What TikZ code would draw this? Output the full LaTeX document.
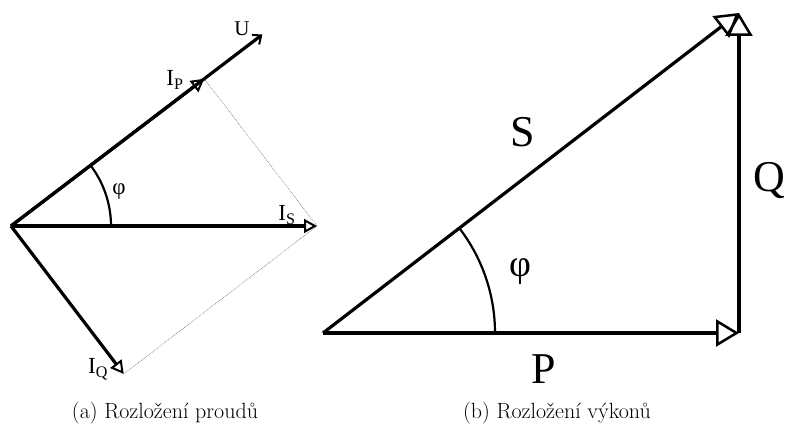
\documentclass[tikz,border=0pt]{standalone}
\usepackage{fontspec}
\newfontfamily\timesfont{Liberation Serif}
\usetikzlibrary{arrows.meta}
\tikzset{
  vec_line/.style = {line width=3.2pt},
  small_head/.style = {vec_line,
    -{Triangle[open, length=13pt, width=14pt, line width=2pt]}},% fazor proudu
  big_head/.style = {vec_line,
    -{Triangle[open, length=23pt, width=27pt, line width=2.5pt]}},% fazor vykonu
  barb_head/.style = {vec_line,
    -{Straight Barb[length=7pt, width=12pt, line width=2pt]}},% napeti
  proj_line/.style = {gray, line width=0.7pt, densely dotted},
  angle_arc/.style = {line width=2.2pt},
  small_lbl/.style = {font=\timesfont\fontsize{23}{23}\selectfont, inner sep=0pt},
  big_lbl/.style = {font=\timesfont\fontsize{44}{44}\selectfont, inner sep=0pt},
  caption_lbl/.style = {font=\fontsize{22}{26}\selectfont, inner sep=0pt, anchor=base}
}

\begin{document}
\begin{tikzpicture}[x=1pt, y=1pt]
    \useasboundingbox (0,0) rectangle (788,424);

    % (a) proudy
    \coordinate (o_a) at (11,198);
    \coordinate (i_s) at (317,198);
    \coordinate (i_p) at ([shift={(37.3:243)}]o_a);
    \coordinate (i_q) at ([shift={(-52.7:186)}]o_a);
    \coordinate (u_tip) at ([shift={(37.3:316)}]o_a);

    \draw [proj_line] (i_p) -- (i_s) -- (i_q);
    \draw [barb_head] (o_a) -- (u_tip);
    \draw [small_head] (o_a) -- (i_p);
    \draw [small_head] (o_a) -- (i_s);
    \draw [small_head] (o_a) -- (i_q);
    \draw [angle_arc] ([shift={(0:100)}]o_a) arc[start angle=0, end angle=37.3, radius=100];

    \node [small_lbl, font=\timesfont\fontsize{21}{21}\selectfont] (lbl_u) at (242,395) {U};
    \node [small_lbl] (lbl_ip) at (175,344) {I\textsubscript{P}};
    \node [small_lbl] (lbl_is) at (287,209) {I\textsubscript{S}};
    \node [small_lbl] (lbl_iq) at (98,55) {I\textsubscript{Q}};
    \node [small_lbl] (lbl_phi_a) at (119,232) {φ};

    % (b) vykony
    \coordinate (o_b) at (323,91);
    \coordinate (p_tip) at (739,91);
    \coordinate (q_tip) at (739,411);

    \draw [big_head] (o_b) -- (p_tip);
    \draw [big_head] (p_tip) -- (q_tip);
    \draw [big_head] (o_b) -- (q_tip);
    \draw [angle_arc] ([shift={(0:172)}]o_b) arc[start angle=0, end angle=37.6, radius=172];

    \node [big_lbl] (lbl_s) at (523,292) {S};
    \node [big_lbl, font=\timesfont\fontsize{38}{38}\selectfont] (lbl_phi_b) at (520,152) {φ};
    \node [big_lbl] (lbl_q) at (769,244) {Q};
    \node [big_lbl] (lbl_p) at (544,55) {P};

    % popisky
    \node [caption_lbl] (cap_a) at (165,6) {(a) Rozložení proudů};
    \node [caption_lbl] (cap_b) at (557,6) {(b) Rozložení výkonů};
\end{tikzpicture}
\end{document}
